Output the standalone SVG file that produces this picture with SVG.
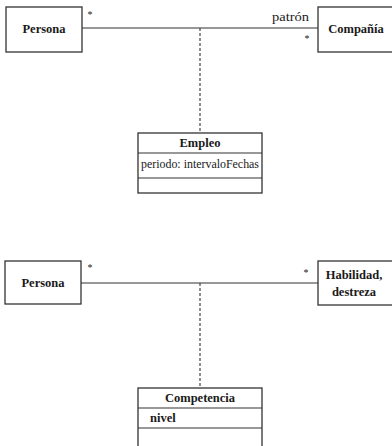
<svg xmlns="http://www.w3.org/2000/svg" width="392" height="446" viewBox="0 0 392 446">
<style>
.box{fill:#fff;stroke:#333;stroke-width:1.3}
.ln{stroke:#333;stroke-width:1.2;fill:none}
.dash{stroke:#444;stroke-width:1.2;stroke-dasharray:3,2;fill:none}
.t{font-family:"Liberation Serif","DejaVu Serif",serif;fill:#1a1a1a}
.b{font-weight:bold;font-size:12.5px}
.n{font-size:12px}
.s{font-size:10px}
</style>
<rect width="392" height="446" fill="#fff"/>
<g id="connectors">
<line class="ln" x1="82" y1="28" x2="318" y2="28"/>
<line class="dash" x1="200" y1="28" x2="200" y2="133"/>
<text class="t s" x="90" y="18" text-anchor="middle">*</text>
<text class="t n" x="272" y="21" textLength="37" lengthAdjust="spacingAndGlyphs" style="font-size:13px">patrón</text>
<text class="t s" x="307" y="42" text-anchor="middle">*</text>
<line class="ln" x1="81" y1="283" x2="318" y2="283"/>
<line class="dash" x1="200" y1="283" x2="200" y2="388"/>
<text class="t s" x="90" y="271" text-anchor="middle">*</text>
<text class="t s" x="306" y="276" text-anchor="middle">*</text>
</g>
<g id="persona1">
<rect class="box" x="6" y="7" width="76" height="45"/>
<text class="t b" x="44" y="33" text-anchor="middle">Persona</text>
</g>
<g id="compania">
<rect class="box" x="318" y="7" width="80" height="45"/>
<text class="t b" x="356" y="33" text-anchor="middle">Compañía</text>
</g>
<g id="empleo">
<rect class="box" x="138" y="133" width="124" height="60"/>
<line class="ln" x1="138" y1="153" x2="262" y2="153"/>
<line class="ln" x1="138" y1="178" x2="262" y2="178"/>
<text class="t b" x="200" y="147" text-anchor="middle">Empleo</text>
<text class="t n" x="141" y="168" textLength="118" lengthAdjust="spacingAndGlyphs">periodo: intervaloFechas</text>
</g>
<g id="persona2">
<rect class="box" x="5" y="261" width="76" height="43"/>
<text class="t b" x="43" y="287" text-anchor="middle">Persona</text>
</g>
<g id="habilidad">
<rect class="box" x="318" y="261" width="80" height="44"/>
<text class="t b" x="354" y="279" text-anchor="middle">Habilidad,</text>
<text class="t b" x="354" y="296" text-anchor="middle">destreza</text>
</g>
<g id="competencia">
<rect class="box" x="138" y="388" width="124" height="70"/>
<line class="ln" x1="138" y1="408" x2="262" y2="408"/>
<line class="ln" x1="138" y1="428" x2="262" y2="428"/>
<text class="t b" x="200" y="402" text-anchor="middle">Competencia</text>
<text class="t b" x="150" y="422">nivel</text>
</g>
</svg>
